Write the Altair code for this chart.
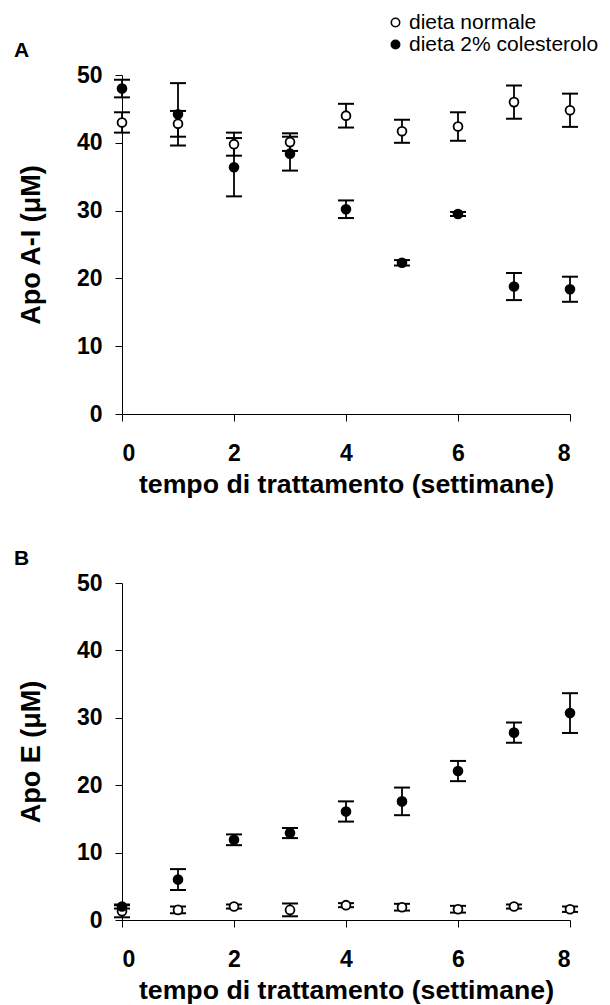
import altair as alt
import pandas as pd

# Weeks of treatment
weeks = [0, 1, 2, 3, 4, 5, 6, 7, 8]
series_names = ["dieta normale", "dieta 2% colesterolo"]

# Panel A: Apo A-I (uM), mean and error
apoa_normale = [43.0, 42.8, 39.8, 40.1, 44.0, 41.7, 42.4, 46.0, 44.8]
apoa_normale_err = [1.5, 1.9, 1.7, 1.3, 1.75, 1.7, 2.1, 2.45, 2.45]
apoa_colest = [48.0, 44.2, 36.4, 38.4, 30.2, 22.3, 29.5, 18.8, 18.4]
apoa_colest_err = [1.3, 4.6, 4.3, 2.5, 1.3, 0.4, 0.3, 2.0, 1.85]

# Panel B: Apo E (uM), mean and error
apoe_normale = [1.3, 1.5, 2.0, 1.5, 2.2, 1.9, 1.6, 2.0, 1.6]
apoe_normale_err = [0.9, 0.5, 0.3, 0.95, 0.3, 0.5, 0.5, 0.3, 0.4]
apoe_colest = [2.0, 6.0, 11.9, 12.9, 16.1, 17.6, 22.1, 27.8, 30.7]
apoe_colest_err = [0.3, 1.55, 0.8, 0.75, 1.5, 2.05, 1.5, 1.5, 2.95]

x_ticks = [0, 2, 4, 6, 8]
y_ticks = [0, 10, 20, 30, 40, 50]

FONT = "Liberation Sans"
X_TITLE = "tempo di trattamento (settimane)"


def build_frame(norm, norm_err, chol, chol_err):
    rows = []
    for name, vals, errs in ((series_names[0], norm, norm_err),
                             (series_names[1], chol, chol_err)):
        for w, v, e in zip(weeks, vals, errs):
            rows.append({"week": w, "value": v, "lo": v - e, "hi": v + e,
                         "serie": name})
    return pd.DataFrame(rows)


def panel(df, letter, y_title, height):
    x_enc = alt.X(
        "week:Q",
        scale=alt.Scale(domain=[0, 8], nice=False, zero=False),
        axis=alt.Axis(values=x_ticks, title=X_TITLE, format="d",
                      labelPadding=21, titlePadding=6, titleFontSize=26.7),
    )
    y_scale = alt.Scale(domain=[0, 50], nice=False)
    y_axis = alt.Axis(values=y_ticks, title=y_title, format="d",
                      labelPadding=13, titlePadding=31, titleFontSize=27)
    base = alt.Chart(df)

    stems = base.mark_rule(color="black", strokeWidth=1.8).encode(
        x=x_enc,
        y=alt.Y("lo:Q", scale=y_scale, axis=y_axis),
        y2="hi:Q",
    )
    caps_lo = base.mark_tick(color="black", thickness=2, size=16,
                             orient="horizontal", opacity=1).encode(
        x="week:Q", y="lo:Q")
    caps_hi = base.mark_tick(color="black", thickness=2, size=16,
                             orient="horizontal", opacity=1).encode(
        x="week:Q", y="hi:Q")
    points = base.mark_point(shape="circle", filled=True, stroke="black",
                             strokeWidth=1.8, size=78, opacity=1).encode(
        x="week:Q",
        y="value:Q",
        fill=alt.Fill(
            "serie:N",
            scale=alt.Scale(domain=series_names, range=["white", "black"]),
            legend=alt.Legend(
                title=None, orient="none", legendX=263, legendY=-63,
                symbolType="circle", symbolSize=70,
                symbolStrokeColor="black", symbolStrokeWidth=1.6,
                labelFont=FONT, labelFontSize=21, labelColor="black",
                labelOffset=3, labelLimit=0, rowPadding=0, padding=0,
            ),
        ),
    )
    tag = alt.Chart(pd.DataFrame({"t": [letter]})).mark_text(
        font=FONT, fontSize=21, fontWeight="bold", color="black",
        align="left", baseline="middle",
    ).encode(text="t:N", x=alt.value(-108), y=alt.value(-24))

    return alt.layer(stems, caps_lo, caps_hi, points, tag).properties(
        width=448, height=height)


panel_a = panel(build_frame(apoa_normale, apoa_normale_err,
                            apoa_colest, apoa_colest_err),
                "A", "Apo A-I (\u03bcM)", 339)
panel_b = panel(build_frame(apoe_normale, apoe_normale_err,
                            apoe_colest, apoe_colest_err),
                "B", "Apo E (\u03bcM)", 337)

chart = alt.vconcat(panel_a, panel_b, spacing=50).properties(
    padding={"left": 14, "top": 12, "right": 2, "bottom": 5},
    background="white",
).configure_view(stroke=None).configure_axis(
    grid=False,
    domainColor="black",
    domainWidth=1,
    tickColor="black",
    tickWidth=1,
    tickSize=7,
    labelFont=FONT,
    labelFontSize=23,
    labelFontWeight="bold",
    labelColor="black",
    titleFont=FONT,
    titleFontWeight="bold",
    titleColor="black",
)

chart.save("out.html", embed_options={"renderer": "svg", "actions": False})
